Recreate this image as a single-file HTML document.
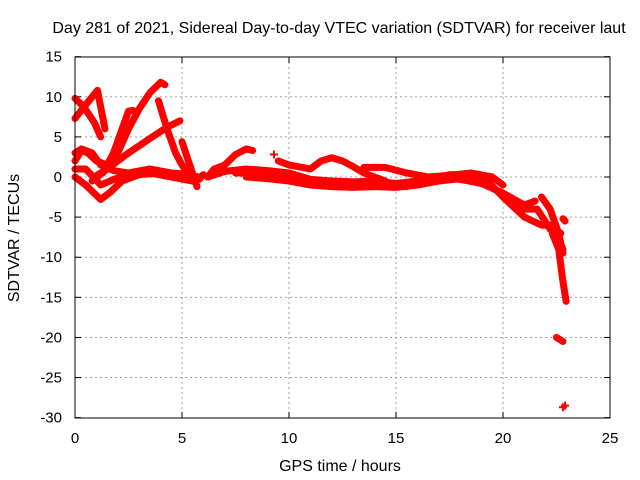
<!DOCTYPE html>
<html><head><meta charset="utf-8"><style>
body{margin:0;background:#fff}
svg{display:block;font-family:"Liberation Sans",sans-serif}
</style></head><body>
<svg id="c" width="640" height="480">
<text x="339" y="33" font-size="16" text-anchor="middle">Day 281 of 2021, Sidereal Day-to-day VTEC variation (SDTVAR) for receiver laut</text>
<text x="340" y="471" font-size="16" text-anchor="middle">GPS time / hours</text>
<text transform="translate(19,238) rotate(-90)" font-size="16" text-anchor="middle">SDTVAR / TECUs</text>
<g id="grid"></g><g id="marks"></g>
<rect x="75" y="57" width="535" height="361" fill="none" stroke="#000"/>
</svg>
<script>
const xTicks=[0,5,10,15,20,25];
const yTicks=[15,10,5,0,-5,-10,-15,-20,-25,-30];
const tracks=[
[[0,9.8],[0.4,8.8],[0.9,6.8],[1.2,5]],
[[0,7.3],[0.5,9],[1.05,10.8],[1.4,6]],
[[0.9,0],[1.5,1],[2,3],[2.5,6],[3,8.5],[3.5,10.5],[4,11.8],[4.2,11.5]],
[[3.9,9.5],[4.3,6],[4.7,3],[5,1.5],[5.5,-0.5]],
[[1.3,0.5],[1.8,3],[2.2,6],[2.5,8.2],[2.7,8.3]],
[[0.8,-0.5],[1.5,1],[2.5,3],[3.5,4.8],[4.3,6.2],[4.9,7]],
[[5,4.4],[5.3,2],[5.7,-1.2]],
[[0,3],[0.3,3.5],[0.8,3],[1.2,1.5],[1.8,0.8],[2.5,0.5],[3.5,1],[4.5,0.5],[5.5,0.3]],
[[0,1],[0.5,1],[1.2,-1],[1.8,-0.3],[2.5,0.3],[3.5,0.5],[4.5,0],[5.5,-0.5]],
[[0,0],[0.5,-1],[1.2,-2.8],[1.6,-2],[2.2,-0.5],[3,0.3],[4,0.5],[5,0.3],[5.8,0]],
[[0,2],[0.3,3.3],[0.6,3],[1,2],[1.5,1.5]],
[[6.2,0],[6.5,1],[7,1.5],[7.5,2.8],[8,3.5],[8.3,3.3]],
[[6.2,0],[7,0.7],[8,1],[9,0.8],[10,0.5],[11,-0.3],[12,-0.5],[13,-0.6],[14,-0.5],[15,-0.8],[16,-0.5],[17,0],[18,-0.3],[19,-0.8],[20,-2],[21,-3.5],[21.5,-3]],
[[7.5,0.5],[8.5,0.5],[9.5,0],[10.5,-0.5],[11.5,-1],[12.5,-1],[13.5,-1.2],[14.5,-1],[15.5,-1.2],[16.5,-0.5],[17.5,0.3],[18.5,0.3],[19.2,-0.3],[20,-2.5],[21,-5],[21.8,-6],[22.3,-6],[22.8,-9]],
[[8,0],[9,-0.2],[10,-0.5],[11,-1],[12,-1.2],[13,-1.3],[14,-1.2],[15,-1.3],[16,-1],[17,-0.5],[18,-0.2],[19,-0.8]],
[[9.5,2],[10,1.5],[11,1],[11.5,2],[12,2.4],[12.5,2],[13,1.3],[13.5,0.5],[14,0],[14.5,-0.5]],
[[13.5,1.2],[14.5,1.2],[15.5,0.5],[16.5,0],[17.5,0.2],[18.5,0.5],[19.5,0],[20,-1]],
[[21.8,-2.5],[22.2,-4],[22.6,-7],[22.8,-9.5]],
[[22.3,-7],[22.6,-9],[22.8,-13],[22.95,-15.5]],
[[20.5,-3],[21,-4],[21.6,-4],[22.2,-6.5],[22.7,-7]],
[[5.8,-0.3],[6,0.3]],
[[22.5,-20],[22.8,-20.5]],
[[22.8,-5.2],[22.9,-5.5]]
];
const singles=[[9.3,2.8],[22.9,-28.5],[22.8,-28.7]];
const X=v=>75+v*535/25, Y=v=>177-v*361/45;
const NS="http://www.w3.org/2000/svg";
const g=document.getElementById('grid'),m=document.getElementById('marks');
function mk(t,a,p){const e=document.createElementNS(NS,t);for(const k in a)e.setAttribute(k,a[k]);p.appendChild(e);return e;}
xTicks.forEach(t=>{const x=X(t);
 if(t>0&&t<25){const l=mk('line',{x1:x,x2:x,y1:57,y2:418,stroke:'#a0a0a0','stroke-dasharray':'2,3'},g);}
 mk('line',{x1:x,x2:x,y1:418,y2:412,stroke:'#000'},g);mk('line',{x1:x,x2:x,y1:57,y2:63,stroke:'#000'},g);
 const tx=mk('text',{x:x,y:443,'font-size':15,'text-anchor':'middle'},g);tx.textContent=t;
 });
yTicks.forEach(t=>{const y=Y(t);
 if(t<15&&t>-30){const l=mk('line',{x1:75,x2:610,y1:y,y2:y,stroke:'#a0a0a0','stroke-dasharray':'2,3'},g);}
 mk('line',{x1:75,x2:81,y1:y,y2:y,stroke:'#000'},g);mk('line',{x1:604,x2:610,y1:y,y2:y,stroke:'#000'},g);
 const tx=mk('text',{x:62,y:y+5,'font-size':15,'text-anchor':'end'},g);tx.textContent=t;
 });
tracks.forEach(tr=>{
 const p=mk('polyline',{points:tr.map(d=>X(d[0])+','+Y(d[1])).join(' '),fill:'none',stroke:'#f00','stroke-width':7,'stroke-linejoin':'round','stroke-linecap':'round'},m);
 });
singles.forEach(d=>{const x=X(d[0]),y=Y(d[1]);
 const p=mk('path',{d:`M${x-4},${y}h8M${x},${y-4}v8`,stroke:'#f00','stroke-width':2},m);
 });
</script>
</body></html>
